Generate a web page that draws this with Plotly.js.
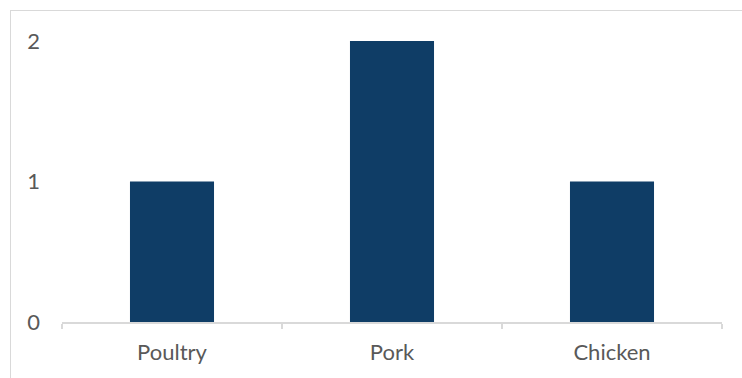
<!DOCTYPE html>
<html>
<head>
<meta charset="utf-8">
<script src="https://cdn.plot.ly/plotly-3.0.1.min.js"></script>
<style>
html,body{margin:0;padding:0;background:#fff;overflow:hidden;}
#wrap{position:relative;width:742px;height:378px;}
#chart{position:absolute;left:0;top:0;width:742px;height:378px;}
#frame{position:absolute;left:10px;top:10px;width:900px;height:600px;border-left:1.5px solid #d9d9d9;border-top:1.5px solid #d9d9d9;pointer-events:none;}
</style>
</head>
<body>
<div id="wrap"><div id="chart"></div><div id="frame"></div></div>
<script>
const categories = ["Poultry", "Pork", "Chicken"];
const values = [1, 2, 1];
const yTickValues = [0, 1, 2];

const font = {family: "Lato, 'Open Sans', sans-serif", size: 22, color: "#595959"};

Plotly.newPlot("chart", [{
  type: "bar",
  x: categories,
  y: values,
  marker: {color: "#0f3d66"},
  width: 0.382,
  hoverinfo: "none"
}], {
  width: 742, height: 378,
  margin: {l: 62, r: 20, t: 41, b: 56},
  paper_bgcolor: "#fff", plot_bgcolor: "#fff",
  showlegend: false,
  font: font,
  xaxis: {
    type: "category",
    showline: true, linecolor: "#d9d9d9", linewidth: 1.5,
    ticks: "outside", tickson: "boundaries", ticklen: 5, tickcolor: "#d9d9d9", tickwidth: 1.5,
    showgrid: false, zeroline: false,
    tickfont: font,
    ticklabelstandoff: 10
  },
  yaxis: {
    range: [0, 2],
    tickvals: yTickValues,
    ticktext: yTickValues.map(String),
    showline: false, showgrid: false, zeroline: false,
    ticks: "",
    tickfont: font,
    ticklabelstandoff: 21
  }
}, {displayModeBar: false, staticPlot: true});
</script>
</body>
</html>
